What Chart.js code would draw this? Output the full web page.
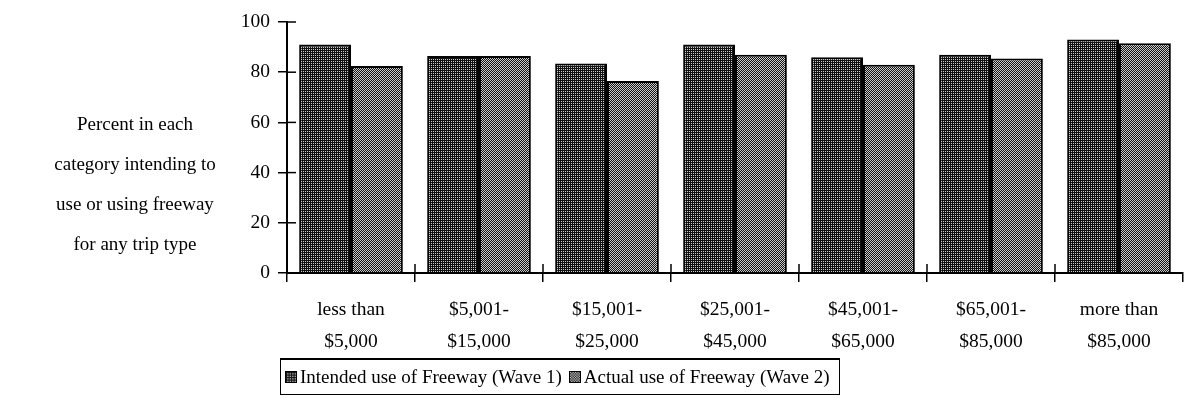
<!DOCTYPE html>
<html><head><meta charset="utf-8">
<script src="https://cdn.jsdelivr.net/npm/chart.js@4"></script>
<style>
html,body{margin:0;padding:0;background:#fff;}
#wrap{position:relative;width:1185px;height:420px;font-family:"Liberation Serif","Times New Roman",serif;color:#000;overflow:hidden;}
#c{position:absolute;left:0;top:0;}
#ytitle{position:absolute;left:0;top:104px;width:270px;text-align:center;font-size:19px;line-height:40px;}
#legend{position:absolute;left:280px;top:358px;width:560px;height:37px;border:1.5px solid #000;border-top-width:2px;box-sizing:border-box;display:flex;align-items:center;font-size:19px;white-space:nowrap;}
.item{display:flex;align-items:center;}
.item canvas{width:12px;height:12px;margin-right:3px;border:1px solid #000;box-sizing:border-box;display:block;}
</style></head>
<body>
<div id="wrap">
<canvas id="c" width="1185" height="420"></canvas>
<div id="ytitle"></div>
<div id="legend"></div>
</div>
<script>
const categories = [
  ['less than','$5,000'],
  ['$5,001-','$15,000'],
  ['$15,001-','$25,000'],
  ['$25,001-','$45,000'],
  ['$45,001-','$65,000'],
  ['$65,001-','$85,000'],
  ['more than','$85,000']
];
const wave1 = [91, 86.5, 83.5, 91, 86, 87, 93];
const wave2 = [82.5, 86.5, 76.5, 87, 83, 85.5, 91.5];
const seriesNames = ['Intended use of Freeway (Wave 1)', 'Actual use of Freeway (Wave 2)'];
const yTickValues = [0, 20, 40, 60, 80, 100];
const yTitleLines = ['Percent in each', 'category intending to', 'use or using freeway', 'for any trip type'];

function makePatternCanvas(kind){
  const c = document.createElement('canvas');
  c.width = 4; c.height = 4;
  const g = c.getContext('2d');
  g.fillStyle = '#111'; g.fillRect(0,0,4,4);
  g.fillStyle = '#ccc';
  let pts;
  if (kind === 0) pts = [[1,1],[3,3],[3,1],[1,3]];
  else pts = [[0,0],[2,0],[1,1],[3,1],[0,2],[2,2],[1,3],[3,3]];
  pts.forEach(p => g.fillRect(p[0], p[1], 1, 1));
  return c;
}
const ctx = document.getElementById('c').getContext('2d');
const pat1 = ctx.createPattern(makePatternCanvas(0), 'repeat');
const pat2 = ctx.createPattern(makePatternCanvas(1), 'repeat');

// y title
document.getElementById('ytitle').innerHTML = yTitleLines.map(s => '<div>' + s + '</div>').join('');

// legend
const leg = document.getElementById('legend');
seriesNames.forEach((name, i) => {
  const item = document.createElement('div');
  item.className = 'item';
  item.style.marginLeft = i === 0 ? '4px' : '7px';
  const sw = document.createElement('canvas');
  sw.width = 12; sw.height = 12;
  const sg = sw.getContext('2d');
  sg.fillStyle = sg.createPattern(makePatternCanvas(i), 'repeat');
  sg.fillRect(0,0,12,12);
  item.appendChild(sw);
  const t = document.createElement('span');
  t.textContent = name;
  item.appendChild(t);
  leg.appendChild(item);
});

const crossTicks = {
  id: 'crossTicks',
  afterDatasetsDraw(chart){
    const {ctx, scales:{x, y}} = chart;
    ctx.save();
    ctx.strokeStyle = '#000';
    ctx.lineWidth = 1.5;
    y.ticks.forEach((t, i) => {
      const py = y.getPixelForTick(i);
      ctx.beginPath(); ctx.moveTo(y.right, py); ctx.lineTo(y.right + 9, py); ctx.stroke();
    });
    for (let i = 1; i < x.ticks.length; i++) {
      const px = x.getPixelForValue(i - 0.5);
      ctx.beginPath(); ctx.moveTo(px, x.top); ctx.lineTo(px, x.top - 9); ctx.stroke();
    }
    ctx.restore();
  }
};

new Chart(ctx, {
  type: 'bar',
  data: {
    labels: categories,
    datasets: [
      {label: seriesNames[0], data: wave1, backgroundColor: pat1, borderColor: '#000', borderWidth: 2, borderSkipped: 'start'},
      {label: seriesNames[1], data: wave2, backgroundColor: pat2, borderColor: '#000', borderWidth: 2, borderSkipped: 'start'}
    ]
  },
  options: {
    responsive: false,
    animation: false,
    devicePixelRatio: 1,
    layout: {padding: {top: 22, right: 2, left: 0, bottom: 0}},
    plugins: {legend: {display: false}, tooltip: {enabled: false}},
    datasets: {bar: {categoryPercentage: 0.81, barPercentage: 1.0}},
    scales: {
      x: {
        grid: {display: true, drawOnChartArea: false, drawTicks: true, tickLength: 9, color: '#000', lineWidth: 1.5, offset: true},
        border: {display: true, color: '#000', width: 2},
        ticks: {color: '#000', padding: 12, maxRotation: 0, autoSkip: false,
                font: {family: '"Liberation Serif", "Times New Roman", serif', size: 19.5, lineHeight: 1.62}},
        afterFit(scale){ scale.height = 147; }
      },
      y: {
        min: 0, max: 100,
        afterBuildTicks(scale){ scale.ticks = yTickValues.map(v => ({value: v})); },
        grid: {display: true, drawOnChartArea: false, drawTicks: true, tickLength: 9, color: '#000', lineWidth: 1.5},
        border: {display: true, color: '#000', width: 2},
        ticks: {color: '#000', padding: 8, font: {family: '"Liberation Serif", "Times New Roman", serif', size: 19.5}},
        afterFit(scale){ scale.width = 287; }
      }
    }
  },
  plugins: [crossTicks]
});
</script>
</body></html>
